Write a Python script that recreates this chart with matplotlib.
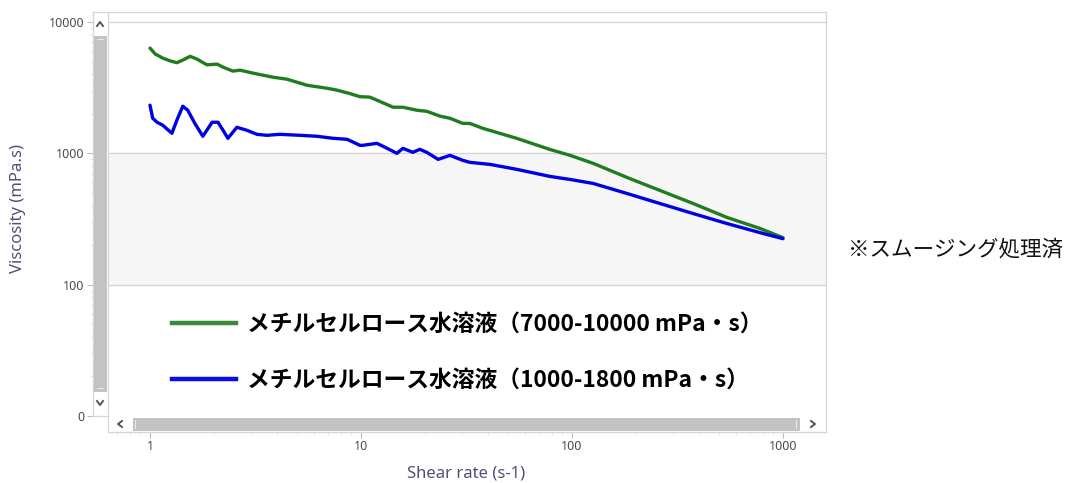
import numpy as np
import matplotlib
matplotlib.use('Agg')
import matplotlib.pyplot as plt
from matplotlib.patches import Rectangle
from matplotlib.lines import Line2D
from matplotlib.ticker import FixedLocator, FixedFormatter, LogLocator, NullFormatter

# 7000-10000 mPa·s (green)
x_hi = [1.00, 1.03, 1.06, 1.15, 1.25, 1.34, 1.43, 1.55, 1.67, 1.86, 2.08, 2.22, 2.47, 2.67,
        3.08, 3.83, 4.46, 5.55, 6.90, 7.69, 8.87, 9.89, 11.0, 11.9, 14.2, 15.8,
        18.4, 20.5, 23.7, 26.4, 30.4, 32.8, 37.8, 54.8, 78.7, 97.8, 126, 182,
        261, 375, 543, 778, 1000]
y_hi = [6330, 6000, 5700, 5310, 5050, 4900, 5130, 5480, 5220, 4720, 4780, 4530, 4230, 4300,
        4080, 3800, 3670, 3300, 3130, 3030, 2850, 2700, 2680, 2540, 2245, 2245,
        2130, 2090, 1920, 1850, 1690, 1690, 1550, 1300, 1070, 966, 839, 656,
        522, 415, 325, 268, 228]

# 1000-1800 mPa·s (blue)
x_lo = [1.00, 1.03, 1.08, 1.15, 1.27, 1.34, 1.43, 1.51, 1.63, 1.78, 1.97, 2.10,
        2.22, 2.34, 2.58, 2.88, 3.21, 3.58, 4.13, 5.14, 6.18, 7.37, 8.59, 9.89,
        10.2, 11.9, 13.3, 14.8, 15.8, 17.6, 19.0, 20.5, 23.2, 26.4, 30.4, 32.8,
        40.9, 54.8, 78.7, 97.8, 126, 182, 261, 375, 543, 778, 1000]
y_lo = [2325, 1850, 1725, 1636, 1421, 1786, 2285, 2130, 1695, 1349, 1725, 1725,
        1498, 1302, 1579, 1498, 1396, 1372, 1396, 1372, 1349, 1302, 1279, 1151,
        1151, 1192, 1092, 1000, 1092, 1018, 1073, 1018, 900, 965, 884, 854,
        824, 755, 667, 633, 590, 495, 415, 348, 292, 249, 224]

labels = ['メチルセルロース水溶液（7000-10000 mPa・s）',
          'メチルセルロース水溶液（1000-1800 mPa・s）']
y_ticks = [10, 100, 1000, 10000]
y_ticklabels = ['0', '100', '1000', '10000']
x_ticks = [1, 10, 100, 1000]
x_ticklabels = ['1', '10', '100', '1000']

W, H = 1076, 483
fig = plt.figure(figsize=(W / 100, H / 100), dpi=100)

def px(x, y):
    return x / W, 1 - y / H

# plot area (pixels): x 108..826, y 12..416
ax = fig.add_axes([108 / W, 1 - 416 / H, (826 - 108) / W, (416 - 12) / H])
ax.set_xscale('log')
ax.set_yscale('log')
ax.set_xlim(10 ** (-42 / 211), 10 ** (676 / 211))
ax.set_ylim(10, 10 ** (4 + 10 / 131))

ax.axhspan(100, 1000, color='#f6f6f6', zorder=0)
for v in [100, 1000, 10000]:
    ax.axhline(v, color='#d4d4d4', lw=0.9, zorder=1)

ax.plot(x_hi, y_hi, color='#1f7d1f', lw=2.4, solid_capstyle='round', zorder=3)
ax.plot(x_lo, y_lo, color='#0000e6', lw=2.4, solid_capstyle='round', zorder=3)

for s in ['top', 'right']:
    ax.spines[s].set_visible(False)
ax.spines['left'].set_position(('outward', 15 * 0.72))
ax.spines['bottom'].set_position(('outward', 16 * 0.72))
ax.spines['left'].set_color('#d6d6d6')
ax.spines['bottom'].set_color('#d6d6d6')

ax.yaxis.set_major_locator(FixedLocator(y_ticks))
ax.yaxis.set_major_formatter(FixedFormatter(y_ticklabels))
ax.xaxis.set_major_locator(FixedLocator(x_ticks))
ax.xaxis.set_major_formatter(FixedFormatter(x_ticklabels))
ax.xaxis.set_minor_locator(LogLocator(subs=np.arange(2, 10)))
ax.yaxis.set_minor_locator(LogLocator(subs=np.arange(2, 10)))
ax.xaxis.set_minor_formatter(NullFormatter())
ax.yaxis.set_minor_formatter(NullFormatter())
ax.tick_params(which='major', length=4, color='#bdbdbd', labelsize=9,
               labelcolor='#4a4a4a', pad=2)
ax.tick_params(which='minor', length=2.5, color='#e0e0e0')
for t in ax.get_xticklabels() + ax.get_yticklabels():
    t.set_family('Noto Sans')

ax.set_ylabel('Viscosity (mPa.s)', fontsize=12, color='#4f4f78', family='Noto Sans')
ax.set_xlabel('Shear rate (s-1)', fontsize=12, color='#4f4f78', family='Noto Sans')
ax.yaxis.set_label_coords(px(18, 0)[0], px(0, 208)[1], transform=fig.transFigure)
ax.xaxis.set_label_coords(px(466, 0)[0], px(0, 473)[1], transform=fig.transFigure)
ax.yaxis.label.set_va('center')
ax.xaxis.label.set_va('center')

# frame lines
frame = '#d6d6d6'
for (x0, y0, x1, y1) in [(93, 12, 826, 12), (826, 12, 826, 432), (93, 12, 93, 416),
                         (108, 12, 108, 432), (108, 432, 826, 432), (93, 416, 108, 416)]:
    a, b = px(x0, y0)
    c, d = px(x1, y1)
    fig.add_artist(Line2D([a, c], [b, d], color=frame, lw=0.9))

# scrollbars
def rect(x0, y0, x1, y1, color):
    a, b = px(x0, y1)
    fig.add_artist(Rectangle((a, b), (x1 - x0) / W, (y1 - y0) / H,
                             transform=fig.transFigure, color=color, lw=0, zorder=2))

rect(94, 36, 107, 392, '#c3c3c3')
rect(133, 418, 800, 431, '#c3c3c3')
rect(97, 39, 104, 40, '#e8e8e8')
rect(97, 388, 104, 389, '#e8e8e8')
rect(135, 420, 136, 429, '#e8e8e8')
rect(796, 420, 797, 429, '#e8e8e8')

def chevron(cx, cy, d):
    s = 3
    if d == 'up':
        xs, ys = [cx - s, cx, cx + s], [cy + 2, cy - 2, cy + 2]
    elif d == 'down':
        xs, ys = [cx - s, cx, cx + s], [cy - 2, cy + 2, cy - 2]
    elif d == 'left':
        xs, ys = [cx + 2, cx - 2, cx + 2], [cy - s, cy, cy + s]
    else:
        xs, ys = [cx - 2, cx + 2, cx - 2], [cy - s, cy, cy + s]
    pts = [px(a, b) for a, b in zip(xs, ys)]
    fig.add_artist(Line2D([p[0] for p in pts], [p[1] for p in pts],
                          color='#555555', lw=1.4))

chevron(100, 24, 'up')
chevron(100, 403, 'down')
chevron(120, 424, 'left')
chevron(813, 424, 'right')

# legend
handles = [Line2D([], [], color='#3a8a3a', lw=3.2), Line2D([], [], color='#0a0af0', lw=3.2)]
leg = fig.legend(handles, labels, loc='upper left', bbox_to_anchor=px(172, 313),
                 frameon=False, handlelength=2.8, handletextpad=0.5,
                 labelspacing=1.45, borderpad=0, borderaxespad=0,
                 prop={'family': ['Noto Sans CJK JP', 'DejaVu Sans'],
                       'weight': 'bold', 'size': 16.4})

fig.text(*px(848, 250), '※スムージング処理済', fontsize=15.5, va='center', ha='left',
         family=['Noto Sans CJK JP', 'DejaVu Sans'], color='#111111')

fig.savefig('out.png', dpi=100)
